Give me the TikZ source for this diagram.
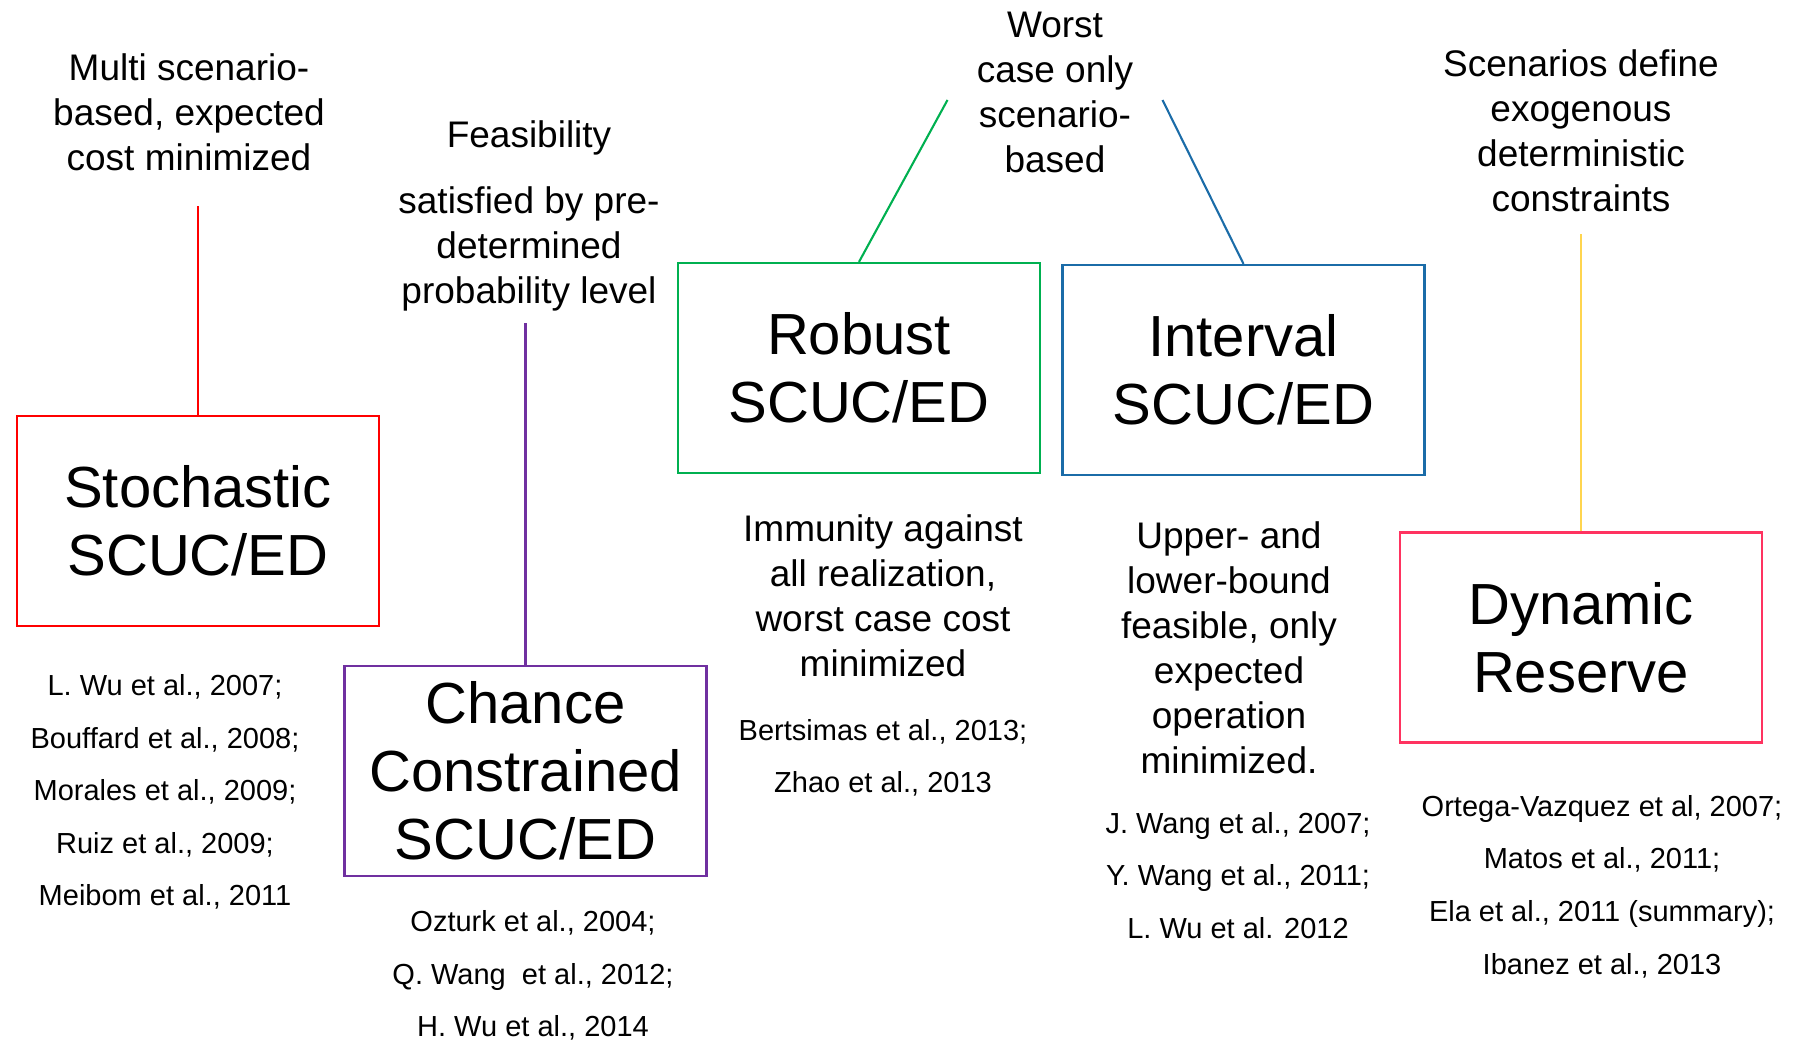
\documentclass[tikz,border=0pt]{standalone}
\usepackage{fontspec}
\setmainfont{Liberation Sans}
\definecolor{cred}{HTML}{FF0000}
\definecolor{cpurple}{HTML}{7030A0}
\definecolor{cgreen}{HTML}{00B050}
\definecolor{cblue}{HTML}{1B6CA8}
\definecolor{cpink}{HTML}{FF3360}
\definecolor{cyellow}{HTML}{FFD54F}
\tikzset{
  mbox/.style={draw, line width=2.2pt, minimum width=362pt, minimum height=210pt, inner sep=0pt,
     align=center, font=\fontsize{58}{68}\selectfont},
  desc/.style={align=center, inner sep=0pt, font=\fontsize{37}{45}\selectfont},
  refs/.style={align=center, inner sep=0pt, font=\fontsize{29}{52.6}\selectfont},
  conn/.style={line width=2.1pt}
}
\begin{document}
\begin{tikzpicture}[x=1pt,y=-1pt]
\useasboundingbox (0,0) rectangle (1794,1040);
% boxes
\node[mbox, draw=cred] (sto) at (198,521) {Stochastic\\SCUC/ED};
\node[mbox, draw=cpurple] (cha) at (525.5,771) {Chance\\Constrained\\SCUC/ED};
\node[mbox, draw=cgreen] (rob) at (859,368) {Robust\\SCUC/ED};
\node[mbox, draw=cblue] (int) at (1243.5,370) {Interval\\SCUC/ED};
\node[mbox, draw=cpink] (dyn) at (1581,637.5) {Dynamic\\Reserve};
% descriptions
\node[desc] (dsto) at (189,112) {Multi scenario-\\based, expected\\cost minimized};
\node[desc] (dfea) at (529,137.5) {Feasibility};
\node[desc] (dcha) at (529,248.5) {satisfied by pre-\\determined\\probability level};
\node[desc] (dwor) at (1055,92.5) {Worst\\case only\\scenario-\\based};
\node[desc] (dsce) at (1581,131) {Scenarios define\\exogenous\\deterministic\\constraints};
\node[desc] (drob) at (883,595.5) {Immunity against\\all realization,\\worst case cost\\minimized};
\node[desc] (dint) at (1229,647.5) {Upper- and\\lower-bound\\feasible, only\\expected\\operation\\minimized.};
% references
\node[refs] (rsto) at (165,792) {L. Wu et al., 2007;\\Bouffard et al., 2008;\\Morales et al., 2009;\\Ruiz et al., 2009;\\Meibom et al., 2011};
\node[refs] (rcha) at (533,975.6) {Ozturk et al., 2004;\\Q. Wang\ \ et al., 2012;\\H. Wu et al., 2014};
\node[refs] (rrob) at (883,758) {Bertsimas et al., 2013;\\Zhao et al., 2013};
\node[refs] (rint) at (1238,875.5) {J. Wang et al., 2007;\\Y. Wang et al., 2011;\\L. Wu et al. 2012};
\node[refs] (rdyn) at (1602,886.5) {Ortega-Vazquez et al, 2007;\\Matos et al., 2011;\\Ela et al., 2011 (summary);\\Ibanez et al., 2013};
% connector ends
\coordinate (esto) at (198,206);
\coordinate (echa) at (525.5,323);
\coordinate (erob) at (947.5,100);
\coordinate (eint) at (1162.5,100);
\coordinate (edyn) at (1581,234);
\draw[conn, cred] (sto.north) -- (esto);
\draw[conn, cpurple] (cha.north) -- (echa);
\draw[conn, cgreen] (rob.north) -- (erob);
\draw[conn, cblue] (int.north) -- (eint);
\draw[conn, cyellow] (dyn.north) -- (edyn);
\end{tikzpicture}
\end{document}
